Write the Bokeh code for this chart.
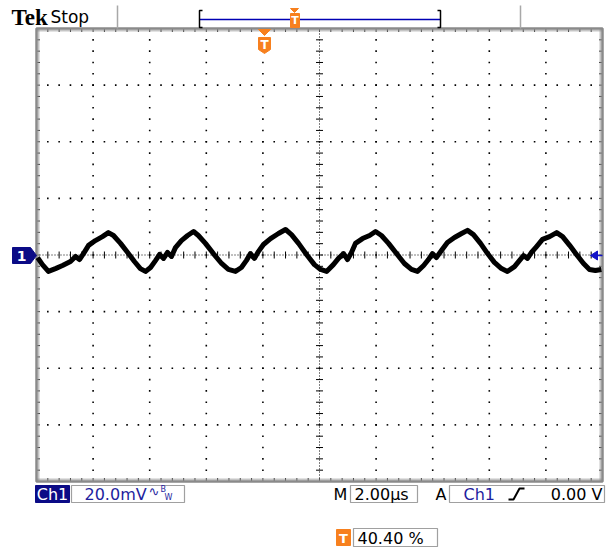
import numpy as np
from bokeh.plotting import figure
from bokeh.models import Range1d
from bokeh.core.properties import value
from bokeh.embed import file_html
from bokeh.resources import INLINE

# ---------------- data ----------------
time_us = [0.04, 0.21, 0.42, 0.67, 0.92, 1.20, 1.38, 1.52, 1.66, 1.84, 2.08, 2.33, 2.54, 2.72,
           2.97, 3.22, 3.46, 3.67, 3.85, 4.03, 4.21, 4.35, 4.49, 4.63, 4.77, 4.91, 5.12, 5.34,
           5.55, 5.72, 5.97, 6.25, 6.54, 6.78, 7.03, 7.24, 7.42, 7.56, 7.70, 7.84, 8.02, 8.27,
           8.55, 8.80, 9.01, 9.26, 9.54, 9.82, 10.04, 10.25, 10.49, 10.67, 10.85, 10.99, 11.13,
           11.27, 11.52, 11.77, 11.98, 12.19, 12.44, 12.72, 13.00, 13.25, 13.46, 13.68, 13.85,
           13.99, 14.13, 14.31, 14.52, 14.77, 15.02, 15.23, 15.44, 15.69, 15.94, 16.18, 16.43,
           16.64, 16.89, 17.07, 17.21, 17.35, 17.49, 17.67, 17.88, 18.13, 18.38, 18.59, 18.84,
           19.08, 19.33, 19.54, 19.75, 19.96]
volt_mv = [-0.9, -3.4, -5.8, -4.8, -3.7, -2.3, -0.5, -1.6, 0.5, 3.4, 5.1, 6.5, 7.9, 6.9,
           4.1, 0.9, -2.3, -4.8, -5.8, -4.4, -1.9, 0.2, -1.2, 0.9, -0.5, 2.6, 5.1, 6.9,
           8.3, 6.9, 4.1, 0.5, -3.0, -5.1, -5.8, -4.4, -1.9, 0.5, -1.2, 1.2, 3.7, 5.8,
           7.6, 9.0, 7.2, 4.1, 0.2, -3.4, -5.1, -5.8, -3.4, -1.2, 0.5, -1.6, 0.9,
           4.1, 5.8, 6.9, 8.3, 6.9, 4.1, 0.5, -3.0, -5.1, -5.8, -3.7, -1.6,
           0.5, -0.9, 1.6, 4.4, 6.2, 7.6, 8.7, 7.2, 4.1, 0.5, -2.6, -4.8,
           -5.8, -4.1, -1.9, -0.2, -1.2, 0.9, 3.0, 5.5, 6.5, 7.9, 6.5, 3.4,
           0.2, -3.0, -5.1, -5.5, -5.1]

n_hdiv, n_vdiv = 10, 8
us_per_div, mv_per_div = 2.0, 20.0
brand = "Tek"
status = "Stop"
ch_label = "Ch1"
volts_label = "20.0mV"
time_label = "2.00µs"
trig_level_label = "0.00 V"
trig_pos_label = "40.40 %"

# ---------------- layout (page pixels) ----------------
W, H = 613, 547
OX, OY = 0, 0
GX0, GX1, GY0, GY1 = 36, 602, 28, 481

T1 = n_hdiv * us_per_div
V1 = n_vdiv / 2 * mv_per_div
sx = T1 / (GX1 - GX0)
sy = 2 * V1 / (GY1 - GY0)


def X(px):
    return (px - GX0) * sx


def Y(py):
    return V1 - (py - GY0) * sy


p = figure(width=W, height=H,
           x_range=Range1d(X(OX), X(OX + W)), y_range=Range1d(Y(OY + H), Y(OY)),
           output_backend="svg", toolbar_location=None, min_border=0,
           x_axis_type=None, y_axis_type=None, outline_line_color=None,
           background_fill_color="white", border_fill_color="white")

NAVY = "#0b0b86"
BLUE_TXT = "#1e1e9e"
ORANGE = "#f7801e"
GRAY = "#8a8a8a"

# ---------------- graticule ----------------
div_t = np.arange(0, n_hdiv + 1) * us_per_div
div_v = (np.arange(0, n_vdiv + 1) - n_vdiv / 2) * mv_per_div
minor_t = np.arange(0, n_hdiv * 5 + 1) * us_per_div / 5
minor_v = (np.arange(0, n_vdiv * 5 + 1) / 5 - n_vdiv / 2) * mv_per_div

dx, dy = [], []
for t in div_t[1:-1]:
    if abs(t - T1 / 2) < 1e-9:
        continue
    for v in minor_v[1:-1]:
        dx.append(t); dy.append(v)
for v in div_v[1:-1]:
    if abs(v) < 1e-9:
        continue
    for t in minor_t[1:-1]:
        dx.append(t); dy.append(v)
p.scatter(dx, dy, marker="square", size=1.6, color="black", line_color=None)

# center lines
p.segment([T1 / 2, 0], [-V1, 0], [T1 / 2, T1], [V1, 0], line_color="black",
          line_width=1, line_dash="1 2")
tk = 3.5
p.segment([T1 / 2 - tk * sx] * len(minor_v), list(minor_v), [T1 / 2 + tk * sx] * len(minor_v),
          list(minor_v), line_color="black", line_width=1)
p.segment(list(minor_t), [-tk * sy] * len(minor_t), list(minor_t), [tk * sy] * len(minor_t),
          line_color="black", line_width=1)

# border ticks
bt = 3.5
p.segment(list(minor_t), [V1] * len(minor_t), list(minor_t), [V1 - bt * sy] * len(minor_t),
          line_color="#333333", line_width=1)
p.segment(list(minor_t), [-V1] * len(minor_t), list(minor_t), [-V1 + bt * sy] * len(minor_t),
          line_color="#333333", line_width=1)
p.segment([0] * len(minor_v), list(minor_v), [bt * sx] * len(minor_v), list(minor_v),
          line_color="#333333", line_width=1)
p.segment([T1] * len(minor_v), list(minor_v), [T1 - bt * sx] * len(minor_v), list(minor_v),
          line_color="#333333", line_width=1)
# fine ruler along border
p.multi_line([[0, T1], [0, T1], [X(GX0 + 2), X(GX0 + 2)], [X(GX1 - 2), X(GX1 - 2)]],
             [[Y(GY0 + 2), Y(GY0 + 2)], [Y(GY1 - 2), Y(GY1 - 2)], [-V1, V1], [-V1, V1]],
             line_color=GRAY, line_width=2, line_dash="1 1")
p.quad(left=[0], right=[T1], bottom=[-V1], top=[V1], fill_color=None,
       line_color=GRAY, line_width=2.5)

# ---------------- waveform ----------------
p.line(time_us, volt_mv, line_color="black", line_width=5, line_join="round")

# ---------------- markers ----------------
# channel 1 ground marker
p.patch([X(12), X(30), X(36), X(30), X(12)], [Y(247), Y(247), Y(255), Y(263), Y(263)],
        fill_color=NAVY, line_color=NAVY)
p.text([X(21)], [Y(255.5)], ["1"], text_color="white", text_font=value("DejaVu Sans"),
       text_font_size=value("14px"), text_font_style="bold", text_align="center",
       text_baseline="middle")
# trigger level arrow (right)
p.patch([X(590), X(597), X(597)], [Y(255), Y(250.5), Y(259.5)], fill_color="#1414c8",
        line_color="#1414c8")
p.segment([X(596)], [Y(255)], [X(602)], [Y(255)], line_color="#1414c8", line_width=1.5)

# trigger position marker inside graticule
p.patch([X(258), X(270), X(264)], [Y(29), Y(29), Y(35)], fill_color=ORANGE, line_color=ORANGE)
p.patch([X(258), X(270), X(270), X(264), X(258)], [Y(37), Y(37), Y(49), Y(53), Y(49)],
        fill_color=ORANGE, line_color=ORANGE)
p.text([X(264)], [Y(44.5)], ["T"], text_color="white", text_font=value("DejaVu Sans"),
       text_font_size=value("12px"), text_font_style="bold", text_align="center",
       text_baseline="middle")

# ---------------- header ----------------
p.text([X(11)], [Y(17)], [brand], text_color="black", text_font=value("Liberation Serif"),
       text_font_size=value("23px"), text_font_style="bold", text_align="left",
       text_baseline="middle")
p.text([X(50)], [Y(16)], [status], text_color="black", text_font=value("DejaVu Sans"),
       text_font_size=value("17px"), text_align="left", text_baseline="middle")
p.segment([X(117), X(520)], [Y(5), Y(5)], [X(117), X(520)], [Y(28), Y(28)],
          line_color="#a8a8a8", line_width=1.5)
# record bar
p.segment([X(199)], [Y(19)], [X(440)], [Y(19)], line_color="#0000b4", line_width=1.5)
p.multi_line([[X(202), X(199), X(199), X(202)], [X(437), X(440), X(440), X(437)]],
             [[Y(10), Y(10), Y(27), Y(27)], [Y(10), Y(10), Y(27), Y(27)]],
             line_color="black", line_width=1.5)
p.patch([X(290), X(298), X(294)], [Y(8), Y(8), Y(12)], fill_color=ORANGE, line_color=ORANGE)
p.quad(left=[X(290)], right=[X(299)], top=[Y(13)], bottom=[Y(27)], fill_color=ORANGE,
       line_color=ORANGE)
p.text([X(294.5)], [Y(20)], ["T"], text_color="white", text_font=value("DejaVu Sans"),
       text_font_size=value("11px"), text_font_style="bold", text_align="center",
       text_baseline="middle")

# ---------------- footer ----------------
p.quad(left=[X(35)], right=[X(69)], top=[Y(485)], bottom=[Y(502)], fill_color=NAVY,
       line_color=NAVY)
p.text([X(52)], [Y(494)], [ch_label], text_color="white", text_font=value("DejaVu Sans"),
       text_font_size=value("16px"), text_align="center", text_baseline="middle")
p.quad(left=[X(71), X(350), X(449)], right=[X(184), X(417), X(604)],
       top=[Y(485)] * 3, bottom=[Y(502)] * 3, fill_color=None, line_color="#a0a0a0",
       line_width=1.2)
p.text([X(84)], [Y(494)], [volts_label], text_color=BLUE_TXT, text_font=value("DejaVu Sans"),
       text_font_size=value("16px"), text_align="left", text_baseline="middle")
p.text([X(148)], [Y(491)], ["∿"], text_color=BLUE_TXT, text_font=value("DejaVu Sans"),
       text_font_size=value("13px"), text_align="left", text_baseline="middle")
p.text([X(160)], [Y(489)], ["B"], text_color=BLUE_TXT, text_font=value("DejaVu Sans"),
       text_font_size=value("8px"), text_align="left", text_baseline="middle")
p.text([X(164)], [Y(497)], ["W"], text_color=BLUE_TXT, text_font=value("DejaVu Sans"),
       text_font_size=value("8px"), text_align="left", text_baseline="middle")
p.text([X(333)], [Y(494)], ["M"], text_color="black", text_font=value("DejaVu Sans"),
       text_font_size=value("16px"), text_align="left", text_baseline="middle")
p.text([X(354)], [Y(494)], [time_label], text_color="black", text_font=value("DejaVu Sans"),
       text_font_size=value("16px"), text_align="left", text_baseline="middle")
p.text([X(435)], [Y(494)], ["A"], text_color="black", text_font=value("DejaVu Sans"),
       text_font_size=value("16px"), text_align="left", text_baseline="middle")
p.text([X(463)], [Y(494)], [ch_label], text_color=BLUE_TXT, text_font=value("DejaVu Sans"),
       text_font_size=value("16px"), text_align="left", text_baseline="middle")
p.line([X(508), X(513), X(519), X(524)], [Y(499), Y(499), Y(488), Y(488)],
       line_color="black", line_width=2)
p.text([X(602)], [Y(494)], [trig_level_label], text_color="black",
       text_font=value("DejaVu Sans"), text_font_size=value("16px"), text_align="right",
       text_baseline="middle")

p.quad(left=[X(336)], right=[X(350)], top=[Y(529)], bottom=[Y(545)], fill_color=ORANGE,
       line_color=ORANGE)
p.text([X(343)], [Y(537.5)], ["T"], text_color="white", text_font=value("DejaVu Sans"),
       text_font_size=value("13px"), text_font_style="bold", text_align="center",
       text_baseline="middle")
p.quad(left=[X(353)], right=[X(437)], top=[Y(528)], bottom=[Y(546)], fill_color=None,
       line_color="#a0a0a0", line_width=1.2)
p.text([X(357)], [Y(537.5)], [trig_pos_label], text_color="black",
       text_font=value("DejaVu Sans"), text_font_size=value("16px"), text_align="left",
       text_baseline="middle")

open("out.html", "w").write(file_html(p, INLINE))
